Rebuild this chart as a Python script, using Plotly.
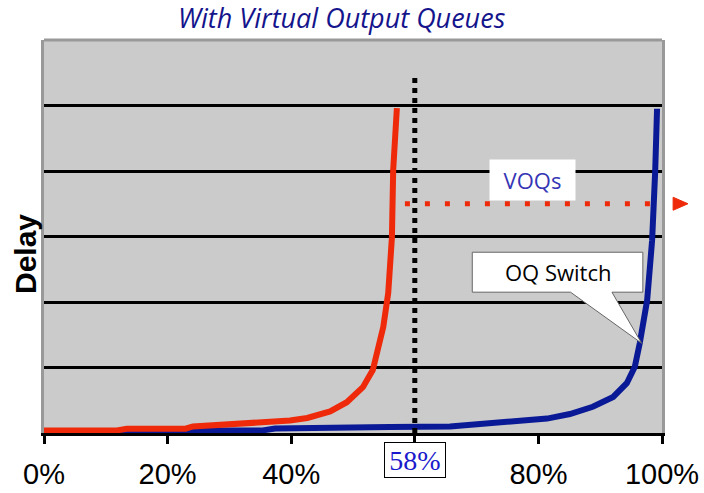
import plotly.graph_objects as go

# ---- data ----
x_ticks = [0, 20, 40, 60, 80, 100]
x_tick_labels = ["0%", "20%", "40%", "", "80%", "100%"]
grid_levels = [1, 2, 3, 4, 5]

voq_load = [0, 11.8, 13.4, 22.9, 24.1, 30.1, 35.4, 39.8, 42.6, 46.3, 49.0, 51.6, 53.2, 54.9, 55.7, 56.3, 56.5, 57.1]
voq_delay = [0.04, 0.04, 0.065, 0.065, 0.10, 0.13, 0.17, 0.19, 0.23, 0.33, 0.47, 0.70, 0.96, 1.62, 2.14, 2.99, 4.01, 4.96]

oq_load = [0, 23.6, 25.2, 35.4, 37.4, 54.4, 56.0, 65.7, 71.7, 76.5, 81.4, 85.1, 88.8, 92.1, 94.3, 95.6, 96.4, 97.6, 98.4, 98.9, 99.2]
oq_delay = [0.01, 0.01, 0.04, 0.04, 0.07, 0.07, 0.09, 0.10, 0.15, 0.18, 0.22, 0.29, 0.40, 0.55, 0.76, 1.01, 1.37, 2.03, 2.94, 4.0, 4.95]

marker_load = 60          # dotted vertical marker
marker_label = "58%"
voq_arrow_level = 3.5

fig = go.Figure()

fig.add_trace(go.Scatter(x=oq_load, y=oq_delay, mode="lines",
                         line=dict(color="#0a1a96", width=6), showlegend=False))
fig.add_trace(go.Scatter(x=voq_load, y=voq_delay, mode="lines",
                         line=dict(color="#ee2a0a", width=6), showlegend=False))

shapes = []
# vertical dotted line
shapes.append(dict(type="line", xref="x", yref="y", x0=marker_load, x1=marker_load,
                   y0=0, y1=5.47, line=dict(color="black", width=5, dash="5px,5px"),
                   layer="above"))
# red dotted horizontal arrow
shapes.append(dict(type="line", xref="x", yref="y", x0=58.4, x1=99.8,
                   y0=voq_arrow_level, y1=voq_arrow_level,
                   line=dict(color="#ee2a0a", width=5, dash="5px,15px"), layer="above"))
# arrow head (outside plot, paper coords)
ay = voq_arrow_level / 6.0
shapes.append(dict(type="path", xref="paper", yref="paper",
                   path=f"M 1.018,{ay + 0.0165} L 1.042,{ay} L 1.018,{ay - 0.0165} Z",
                   fillcolor="#ee2a0a", line=dict(color="#ee2a0a", width=1), layer="above"))
# OQ Switch callout bubble
shapes.append(dict(type="path", xref="x", yref="y",
                   path="M 69.3,2.76 L 96.9,2.76 L 96.9,2.15 L 91.9,2.15 L 96.7,1.37 L 85.2,2.15 L 69.3,2.15 Z",
                   fillcolor="white", line=dict(color="#666666", width=1), layer="above"))
# top border
shapes.append(dict(type="line", xref="paper", yref="paper", x0=0, x1=1, y0=1, y1=1,
                   line=dict(color="#999999", width=3), layer="above"))

fig.update_layout(shapes=shapes)

ann = []
ann.append(dict(x=79.0, y=3.86, xref="x", yref="y", text="VOQs", showarrow=False,
                font=dict(family="Open Sans", size=22, color="#3535b5"),
                bgcolor="white", width=85, height=40, borderpad=0))
ann.append(dict(x=83.1, y=2.455, xref="x", yref="y", text="OQ Switch", showarrow=False,
                font=dict(family="Open Sans", size=22, color="black")))
ann.append(dict(x=marker_load, y=-0.069, xref="x", yref="paper", text=marker_label, showarrow=False,
                yanchor="middle",
                font=dict(family="Liberation Serif", size=28, color="#1a1acc"),
                bgcolor="white", bordercolor="black", borderwidth=1, width=60, height=34,
                borderpad=0))
ann.append(dict(x=-0.031, y=0.455, xref="paper", yref="paper", text="<b>Delay</b>",
                textangle=-90, showarrow=False, xanchor="center", yanchor="middle",
                font=dict(family="Liberation Sans", size=30, color="black")))
ann.append(dict(x=0.483, y=1.0, xref="paper", yref="paper", yshift=2,
                text="<i>With Virtual Output Queues</i>", showarrow=False,
                xanchor="center", yanchor="bottom",
                font=dict(family="Open Sans", size=27, color="#14148c")))
fig.update_layout(annotations=ann)

fig.update_xaxes(range=[0, 100], tickvals=x_ticks, ticktext=x_tick_labels,
                 ticks="outside", ticklen=8, tickwidth=3, tickcolor="black",
                 showline=True, linecolor="black", linewidth=3, showgrid=False,
                 zeroline=False, ticklabelstandoff=5, automargin=False,
                 tickfont=dict(family="Liberation Sans", size=29, color="black"))
fig.update_yaxes(range=[0, 6], tickvals=grid_levels, showticklabels=False, ticks="",
                 showline=True, linecolor="#999999", linewidth=3, mirror=True,
                 showgrid=True, gridcolor="black", gridwidth=3, zeroline=False,
                 automargin=False)

fig.update_layout(width=704, height=493, margin=dict(l=44, r=42, t=40, b=60),
                  plot_bgcolor="#cbcbcb", paper_bgcolor="white", showlegend=False)

fig.write_html("out.html")
